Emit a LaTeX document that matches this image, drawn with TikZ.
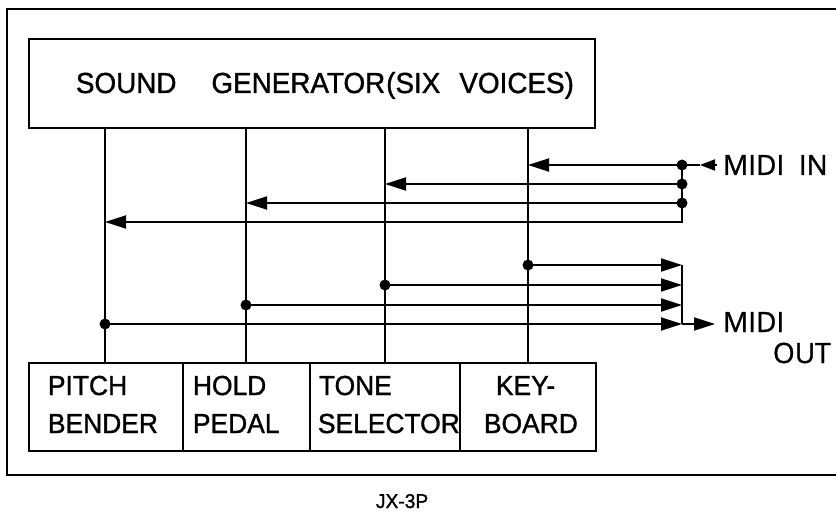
\documentclass[tikz,border=0pt]{standalone}
\usepackage{fontspec}
\setmainfont[FakeBold=1.2,FakeStretch=0.96]{Liberation Sans}
\newfontfamily\midifont[FakeBold=1.2]{Open Sans}
\usetikzlibrary{arrows.meta}
\begin{document}
\begin{tikzpicture}[x=1pt,y=-1pt,line width=1.9pt,
  box/.style={draw,rectangle,inner sep=0pt,anchor=north west},
  lbl/.style={font=\fontsize{27.5}{30}\selectfont,inner sep=0pt,anchor=base west},
  mlbl/.style={font=\midifont\fontsize{28}{30}\selectfont,inner sep=0pt,anchor=base west},
  arr/.style={-{Triangle[length=21pt,width=13pt]}},
  arrsmall/.style={-{Triangle[length=15pt,width=11pt]}},
  dotn/.style={circle,fill,inner sep=0pt,minimum size=11pt}]
\useasboundingbox (0,0) rectangle (836,516);
% outer frame
\draw (836,9) -- (7,9) -- (7,475) -- (836,475);
% boxes
\node[box,minimum width=566pt,minimum height=89pt] (sg) at (28,38) {};
\node[box,minimum width=154pt,minimum height=88pt] (pb) at (28,362) {};
\node[box,minimum width=127pt,minimum height=88pt] (hp) at (182,362) {};
\node[box,minimum width=150pt,minimum height=88pt] (ts) at (309,362) {};
\node[box,minimum width=136pt,minimum height=88pt] (kb) at (459,362) {};
% texts
\node[lbl,font=\fontsize{29}{32}\selectfont] (sgt) at (75,93) {SOUND\hspace{35pt}GENERATOR\hspace{1pt}(SIX\hspace{19pt}VOICES)};
\node[lbl] (pb1) at (47,395) {PITCH};
\node[lbl] (pb2) at (47,433) {BENDER};
\node[lbl] (hp1) at (192,395) {HOLD};
\node[lbl] (hp2) at (192,433) {PEDAL};
\node[lbl] (ts1) at (318,395) {TONE};
\node[lbl] (ts2) at (317,433) {SELECTOR};
\node[lbl] (kb1) at (495,395) {KEY-};
\node[lbl] (kb2) at (483,433) {BOARD};
\node[mlbl] (midiin) at (722,175) {MIDI\ \ IN};
\node[mlbl] (midiout) at (722,332) {MIDI};
\node[mlbl] (out) at (772,363) {OUT};
\node[lbl,font=\fontsize{20}{24}\selectfont] (jx) at (375,508) {JX-3P};
% columns and rows
\coordinate (c1) at (105,0);
\coordinate (c2) at (246,0);
\coordinate (c3) at (385,0);
\coordinate (c4) at (528,0);
\coordinate (bx) at (682,0);
\coordinate (r1) at (0,165);
\coordinate (r2) at (0,184);
\coordinate (r3) at (0,203);
\coordinate (r4) at (0,222);
\coordinate (s1) at (0,265);
\coordinate (s2) at (0,285);
\coordinate (s3) at (0,305);
\coordinate (s4) at (0,324);
% vertical lines
\draw (sg.south -| c1) -- (pb.north -| c1);
\draw (sg.south -| c2) -- (hp.north -| c2);
\draw (sg.south -| c3) -- (ts.north -| c3);
\draw (sg.south -| c4) -- (kb.north -| c4);
% MIDI IN bus
\node[dotn] (d1) at (bx |- r1) {};
\node[dotn] (d2) at (bx |- r2) {};
\node[dotn] (d3) at (bx |- r3) {};
\coordinate (d4) at (bx |- r4);
\draw[arr] (d1.center) -- (c4 |- r1);
\draw[arr] (d2.center) -- (c3 |- r2);
\draw[arr] (d3.center) -- (c2 |- r3);
\draw[arr] (d1.center) -- (d4) -- (c1 |- r4);
\draw (d1.center) -- ++(18,0) coordinate (ti);
\draw[arrsmall] ([xshift=-5pt]midiin.west |- r1) -- (ti);
% MIDI OUT bus
\node[dotn] (o1) at (c4 |- s1) {};
\node[dotn] (o2) at (c3 |- s2) {};
\node[dotn] (o3) at (c2 |- s3) {};
\node[dotn] (o4) at (c1 |- s4) {};
\draw[arr] (o1.center) -- (bx |- s1);
\draw[arr] (o2.center) -- (bx |- s2);
\draw[arr] (o3.center) -- (bx |- s3);
\draw[arr] (o4.center) -- (bx |- s4);
\draw (bx |- s1) -- (bx |- s4);
\draw[arr] (bx |- s4) -- ([xshift=-7pt]midiout.west |- s4);
\end{tikzpicture}
\end{document}
